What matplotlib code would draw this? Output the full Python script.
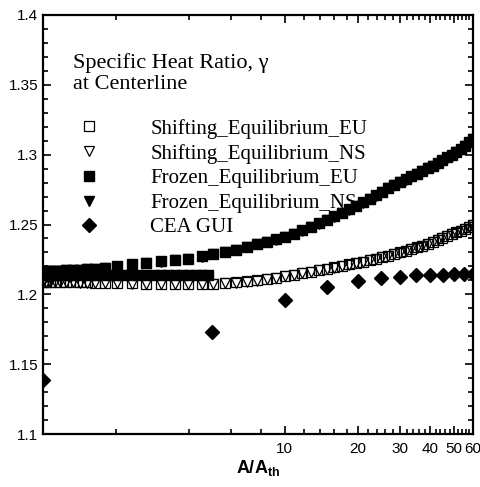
import numpy as np
import matplotlib
matplotlib.use("Agg")
import matplotlib.pyplot as plt
from matplotlib.ticker import FixedLocator, NullFormatter

plt.rcParams['font.family'] = ['Liberation Sans', 'DejaVu Sans']
plt.rcParams['mathtext.fontset'] = 'custom'
plt.rcParams['mathtext.rm'] = 'Liberation Sans'
plt.rcParams['mathtext.bf'] = 'Liberation Sans:bold'

# area ratio grid along the diverging section
a_div = [1.0, 1.03, 1.07, 1.12, 1.18, 1.25, 1.33, 1.42, 1.52, 1.64, 1.8, 2.02, 2.33, 2.67,
         3.08, 3.52, 3.99, 4.54, 5.07, 5.66, 6.3, 6.95, 7.65, 8.4, 9.2, 10.0, 10.9, 11.8,
         12.8, 13.8, 14.9, 16.0, 17.2, 18.4, 19.7, 21.0, 22.4, 23.8, 25.3, 26.8, 28.4, 30.0,
         31.7, 33.4, 35.2, 37.0, 38.9, 40.8, 42.8, 44.8, 46.9, 49.0, 51.2, 53.4, 55.7, 58.0, 60.0]

shift_eu = [1.2090, 1.2090, 1.2089, 1.2089, 1.2088, 1.2088, 1.2087, 1.2086, 1.2085, 1.2084,
            1.2082, 1.2080, 1.2078, 1.2076, 1.2075, 1.2074, 1.2073, 1.2073, 1.2075, 1.2079,
            1.2085, 1.2092, 1.2100, 1.2109, 1.2119, 1.2130, 1.2141, 1.2152, 1.2163, 1.2174,
            1.2184, 1.2194, 1.2204, 1.2214, 1.2226, 1.2235, 1.2245, 1.2255, 1.2266, 1.2277,
            1.2288, 1.2300, 1.2312, 1.2324, 1.2336, 1.2349, 1.2362, 1.2375, 1.2389, 1.2403,
            1.2418, 1.2431, 1.2444, 1.2457, 1.2470, 1.2483, 1.2495]

shift_ns = [1.2088, 1.2088, 1.2088, 1.2087, 1.2087, 1.2086, 1.2085, 1.2084, 1.2083, 1.2082,
            1.2080, 1.2078, 1.2076, 1.2074, 1.2073, 1.2072, 1.2071, 1.2072, 1.2074, 1.2078,
            1.2084, 1.2091, 1.2099, 1.2108, 1.2118, 1.2128, 1.2139, 1.2150, 1.2161, 1.2172,
            1.2182, 1.2192, 1.2203, 1.2213, 1.2224, 1.2234, 1.2244, 1.2254, 1.2265, 1.2276,
            1.2287, 1.2298, 1.2310, 1.2322, 1.2334, 1.2347, 1.2360, 1.2373, 1.2387, 1.2401,
            1.2416, 1.2429, 1.2442, 1.2455, 1.2468, 1.2481, 1.2493]

frozen_eu = [1.2165, 1.2166, 1.2167, 1.2168, 1.2170, 1.2172, 1.2174, 1.2177, 1.2180, 1.2183,
             1.2187, 1.2200, 1.2215, 1.2226, 1.2236, 1.2246, 1.2256, 1.2272, 1.2288, 1.2304,
             1.2321, 1.2340, 1.2360, 1.2378, 1.2395, 1.2412, 1.2435, 1.2460, 1.2485, 1.2510,
             1.2535, 1.2560, 1.2585, 1.2610, 1.2635, 1.2660, 1.2685, 1.2710, 1.2735, 1.2762,
             1.2785, 1.2805, 1.2825, 1.2845, 1.2865, 1.2885, 1.2905, 1.2922, 1.2940, 1.2960,
             1.2980, 1.2998, 1.3020, 1.3040, 1.3065, 1.3090, 1.3115]

frozen_ns = [1.2163, 1.2164, 1.2165, 1.2167, 1.2169, 1.2171, 1.2173, 1.2176, 1.2179, 1.2182,
             1.2186, 1.2198, 1.2213, 1.2224, 1.2234, 1.2244, 1.2254, 1.2270, 1.2286, 1.2302,
             1.2319, 1.2338, 1.2357, 1.2375, 1.2392, 1.2410, 1.2432, 1.2457, 1.2482, 1.2507,
             1.2532, 1.2557, 1.2582, 1.2607, 1.2632, 1.2657, 1.2682, 1.2707, 1.2732, 1.2758,
             1.2781, 1.2801, 1.2821, 1.2841, 1.2861, 1.2881, 1.2901, 1.2918, 1.2936, 1.2956,
             1.2976, 1.2994, 1.3016, 1.3036, 1.3061, 1.3086, 1.3110]

# frozen EU points on the converging section
a_conv = [1.0, 1.02, 1.05, 1.09, 1.14, 1.2, 1.27, 1.35, 1.45, 1.56, 1.68, 1.82, 1.97, 2.13,
          2.3, 2.48, 2.67, 2.87, 3.08, 3.3, 3.53, 3.77, 4.02, 4.28, 4.55, 4.8]
frozen_eu_conv = [1.2145, 1.2143, 1.2141, 1.2140, 1.2139, 1.2138, 1.2137, 1.2137, 1.2136, 1.2136,
                  1.2136, 1.2135, 1.2135, 1.2135, 1.2135, 1.2135, 1.2135, 1.2135, 1.2135, 1.2135,
                  1.2135, 1.2135, 1.2135, 1.2135, 1.2135, 1.2135]

# CEA GUI
a_cea = [1, 5, 10, 15, 20, 25, 30, 35, 40, 45, 50, 55, 60]
gam_cea = [1.139, 1.173, 1.196, 1.2055, 1.2095, 1.2115, 1.2125, 1.2135, 1.214, 1.2142,
           1.2145, 1.2147, 1.2148]

fig = plt.figure(figsize=(4.81, 4.87), dpi=100)
ax = fig.add_axes([0.0894, 0.1088, 0.894, 0.8604])

ms = 6.8
h1, = ax.plot(a_div, shift_eu, 's', ms=ms, mfc='none', mec='black', mew=0.9, ls='none',
              label='Shifting_Equilibrium_EU')
h2, = ax.plot(a_div, shift_ns, 'v', ms=ms + 0.6, mfc='none', mec='black', mew=0.9, ls='none',
              label='Shifting_Equilibrium_NS')
h3, = ax.plot(a_div, frozen_eu, 's', ms=ms, color='black', ls='none',
              label='Frozen_Equilibrium_EU')
ax.plot(a_conv, frozen_eu_conv, 's', ms=ms, color='black', ls='none')
h4, = ax.plot(a_div, frozen_ns, 'v', ms=ms + 0.6, color='black', ls='none',
              label='Frozen_Equilibrium_NS')
h5, = ax.plot(a_cea, gam_cea, 'D', ms=7.5, color='black', ls='none', label='CEA GUI')

ax.set_xscale('log')
ax.set_xlim(1, 60)
ax.set_ylim(1.1, 1.4)

ax.xaxis.set_major_locator(FixedLocator([10, 20, 30, 40, 50, 60]))
ax.xaxis.set_major_formatter(plt.FixedFormatter(['10', '20', '30', '40', '50', '60']))
ax.xaxis.set_minor_locator(FixedLocator([v for v in range(2, 60, 2) if v % 10 != 0]))
ax.xaxis.set_minor_formatter(NullFormatter())

ax.set_yticks([1.1, 1.15, 1.2, 1.25, 1.3, 1.35, 1.4])
ax.set_yticklabels(['1.1', '1.15', '1.2', '1.25', '1.3', '1.35', '1.4'])
ax.yaxis.set_minor_locator(FixedLocator(np.arange(1.11, 1.4, 0.01)))

ax.tick_params(which='both', direction='in', top=True, right=True, labelsize=11, width=1.2)
ax.tick_params(which='major', length=6)
ax.tick_params(which='minor', length=3.5)
ax.tick_params(axis='x', pad=6)
for sp in ax.spines.values():
    sp.set_linewidth(1.6)

ax.set_xlabel(r'A/A$_{\mathbf{th}}$', fontsize=13, fontweight='bold', labelpad=1)

leg = ax.legend(handles=[h1, h2, h3, h4, h5],
                title='Specific Heat Ratio, \u03b3\nat Centerline',
                loc='upper left', bbox_to_anchor=(0.07, 0.908), frameon=False,
                prop={'family': 'Liberation Serif', 'size': 15},
                title_fontproperties={'family': 'Liberation Serif', 'size': 16},
                alignment='left', handlelength=1.5, handletextpad=2.2,
                labelspacing=0.24, borderpad=0, borderaxespad=0)
leg.get_title().set_linespacing(1.1)
leg._legend_box.sep = 18

fig.savefig('out.png', dpi=100)
